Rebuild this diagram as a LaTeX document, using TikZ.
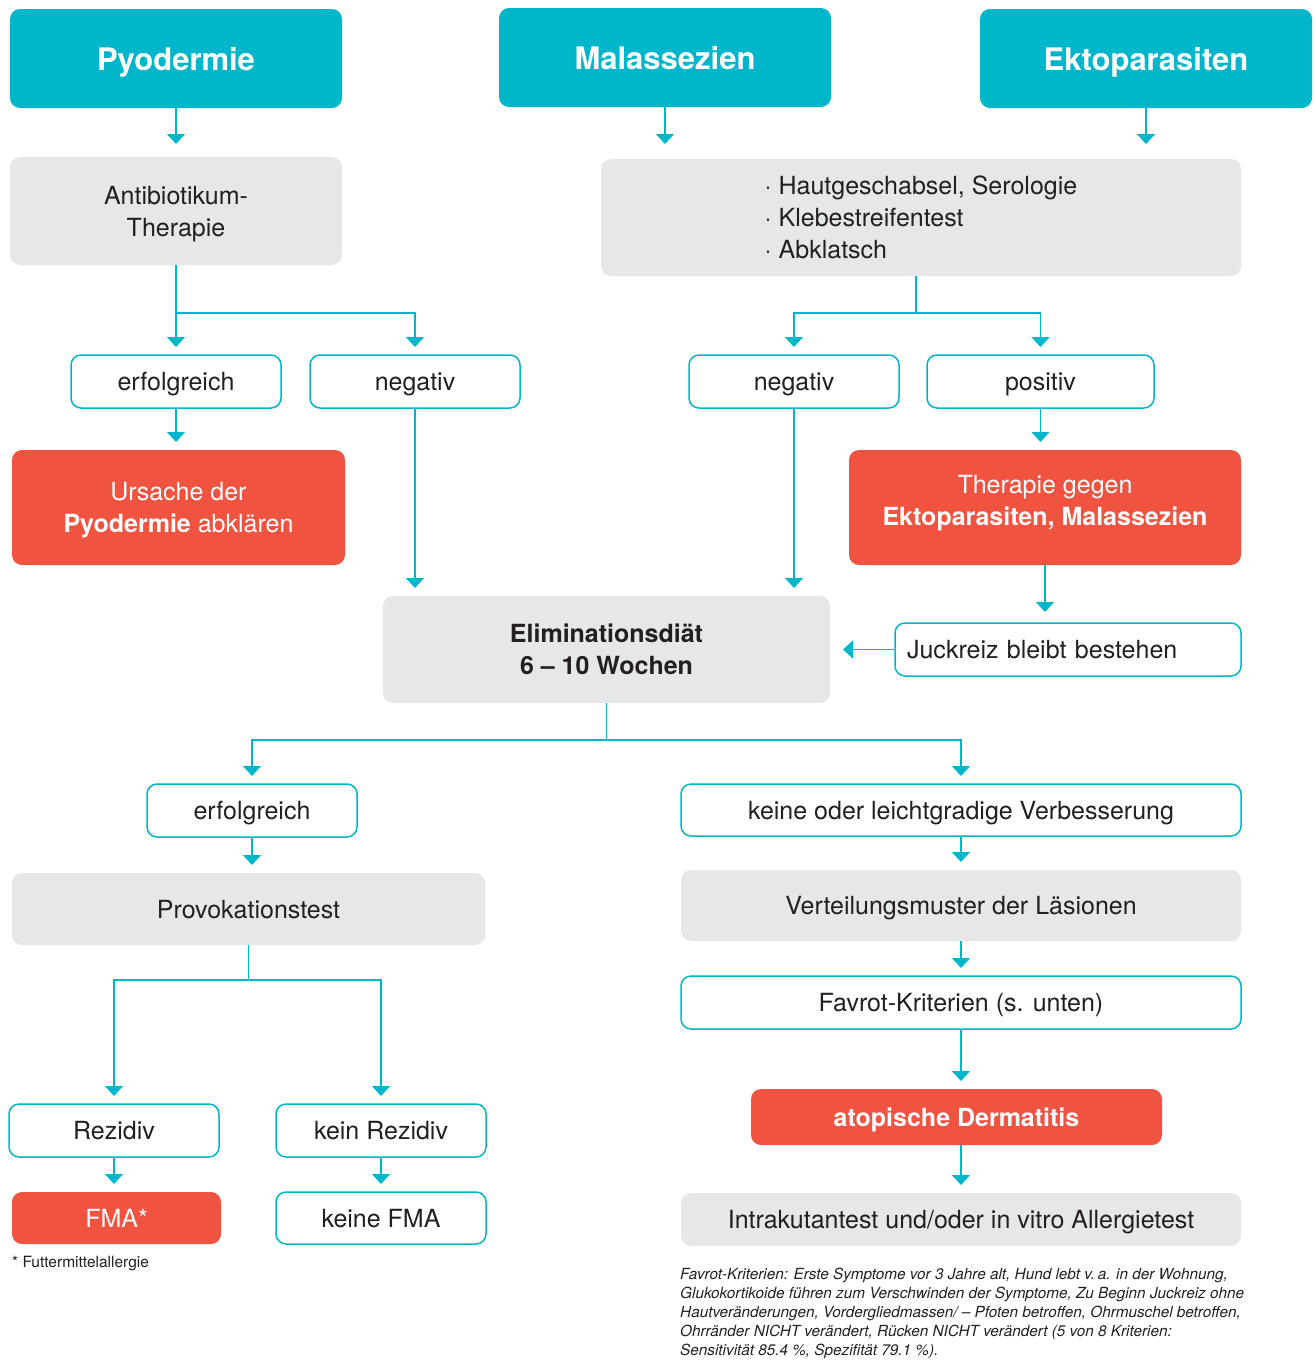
\documentclass[tikz,border=0pt]{standalone}
\usepackage{fontspec}
\setmainfont{TeX Gyre Heros}
\usetikzlibrary{arrows.meta,calc}
\definecolor{tuerkis}{RGB}{0,182,202}
\definecolor{rot}{RGB}{240,83,64}
\definecolor{hellgrau}{RGB}{230,231,232}
\definecolor{schrift}{RGB}{35,31,32}

\begin{document}
\begin{tikzpicture}[x=1pt,y=-1pt,
    B/.style={rounded corners=10pt,inner sep=0pt,outer sep=0pt,align=center,text=schrift,
      text depth=0pt,font=\fontsize{25}{32}\selectfont},
    K/.style={B,fill=tuerkis,text=white,minimum width=332pt,minimum height=99pt,
      font=\bfseries\fontsize{31}{36}\selectfont},
    G/.style={B,fill=hellgrau},
    R/.style={B,fill=rot,text=white},
    W/.style={B,draw=tuerkis,line width=1.5pt,fill=white,minimum height=53pt},
    L/.style={draw=tuerkis,line width=1.5pt},
    P/.style={L,-{Triangle[width=18pt,length=10pt]},shorten >=8pt}]
    \useasboundingbox (0,0) rectangle (1315,1361);
    \begin{scope}[shift={(0,0)}]
      \node[K] (pyo) at (176,58.5) {Pyodermie};
      \node[K] (mal) at (665,57.5) {Malassezien};
      \node[K] (ekto) at (1146,58.5) {Ektoparasiten};
      \node[G,minimum width=332pt,minimum height=108pt] (anti) at (176,211) {Antibiotikum-\\Therapie};
      \node[G,minimum width=640pt,minimum height=117pt,align=left] (tests) at (921,217.5)
        {\textperiodcentered\ Hautgeschabsel, Serologie\\\textperiodcentered\ Klebestreifentest\\\textperiodcentered\ Abklatsch};
      \node[W,minimum width=210pt] (erfA) at (176,381.5) {erfolgreich};
      \node[W,minimum width=210pt] (negA) at (415,381.5) {negativ};
      \node[W,minimum width=210pt] (negB) at (794,381.5) {negativ};
      \node[W,minimum width=227pt] (posB) at (1040.5,381.5) {positiv};
      \node[R,minimum width=333pt,minimum height=115pt] (ursache) at (178.5,507.5)
        {Ursache der\\\textbf{Pyodermie} abklären};
      \node[R,minimum width=392pt,minimum height=115pt,text depth=14pt] (therapie) at (1045,507.5)
        {Therapie gegen\\\textbf{Ektoparasiten, Malassezien}};
      \node[W,text width=322pt,inner xsep=12pt,align=left] (juck) at (1068,649.5) {Juckreiz bleibt bestehen};
      \node[G,minimum width=447pt,minimum height=107pt,font=\bfseries\fontsize{25}{32}\selectfont] (elim)
        at (606.5,649.5) {Eliminationsdiät\\6 -- 10 Wochen};
      \node[W,minimum width=210pt] (erfC) at (252,810.5) {erfolgreich};
      \node[W,minimum width=560pt,minimum height=52pt] (keine) at (961,810) {keine oder leichtgradige Verbesserung};
      \node[G,minimum width=473pt,minimum height=72pt] (provo) at (248.5,909) {Provokationstest};
      \node[G,minimum width=560pt,minimum height=71pt] (vert) at (961,905.5) {Verteilungsmuster der Läsionen};
      \node[W,minimum width=560pt] (favrot) at (961,1002.5) {Favrot-Kriterien (s. unten)};
      \node[R,minimum width=411pt,minimum height=56pt,font=\bfseries\fontsize{25}{32}\selectfont] (atop)
        at (956.5,1117) {atopische Dermatitis};
      \node[G,minimum width=560pt,minimum height=53pt] (intra) at (961,1219.5) {Intrakutantest und/oder in vitro Allergietest};
      \node[W,minimum width=210pt] (rez) at (114,1130.5) {Rezidiv};
      \node[W,minimum width=210pt] (keinrez) at (381,1130.5) {kein Rezidiv};
      \node[R,minimum width=209pt,minimum height=52pt] (fma) at (116.5,1218) {FMA*};
      \node[W,minimum width=210pt,minimum height=52pt] (keinefma) at (381,1218) {keine FMA};
      \node[anchor=west,text=schrift,inner sep=0pt,font=\fontsize{15.5}{18}\selectfont] (fuss)
        at (12,1264) {* Futtermittelallergie};
      \node[anchor=north west,text=schrift,inner sep=0pt,align=left,
        font=\itshape\fontsize{15.3}{19}\selectfont] (favnote) at (680,1268)
        {Favrot-Kriterien: Erste Symptome vor 3 Jahre alt, Hund lebt v.\,a. in der Wohnung,\\
         Glukokortikoide führen zum Verschwinden der Symptome, Zu Beginn Juckreiz ohne\\
         Hautveränderungen, Vordergliedmassen/ -- Pfoten betroffen, Ohrmuschel betroffen,\\
         Ohrränder NICHT verändert, Rücken NICHT verändert (5 von 8 Kriterien:\\
         Sensitivität 85.4 \%, Spezifität 79.1 \%).};

      \coordinate (jA) at (176,313);
      \coordinate (jB) at (916,313);
      \coordinate (jC) at (606.5,740);
      \coordinate (jD) at (248.5,980);

      \draw[P,shorten >=13pt](pyo)--(anti);
      \draw[P,shorten >=15pt](mal.south)--(mal.south |- tests.north);
      \draw[P,shorten >=15pt](ekto.south)--(ekto.south |- tests.north);
      \draw[L](anti.south)--(jA);
      \draw[P](jA)--(erfA.north);
      \draw[P](jA)-|(negA.north);
      \draw[L](jB |- tests.south)--(jB);
      \draw[P](jB)-|(negB.north);
      \draw[P](jB)-|(posB.north);
      \draw[P](erfA.south)--(erfA.south |- ursache.north);
      \draw[P](negA.south)--(negA.south |- elim.north);
      \draw[P](negB.south)--(negB.south |- elim.north);
      \draw[P](posB.south)--(posB.south |- therapie.north);
      \draw[P,shorten >=11pt](therapie.south)--(therapie.south |- juck.north);
      \draw[P,shorten >=13pt](juck.west)--(juck.west -| elim.east);
      \draw[L](elim.south)--(jC);
      \draw[P](jC)-|(erfC.north);
      \draw[P](jC)-|(keine.north);
      \draw[P](erfC.south)--(erfC.south |- provo.north);
      \draw[L](provo.south)--(jD);
      \draw[P](jD)-|(rez.north);
      \draw[P](jD)-|(keinrez.north);
      \draw[P](rez.south)--(rez.south |- fma.north);
      \draw[P](keinrez)--(keinefma);
      \draw[P](keine)--(vert);
      \draw[P](vert)--(favrot);
      \draw[P](favrot.south)--(favrot.south |- atop.north);
      \draw[P](intra.north |- atop.south)--(intra.north);
    \end{scope}
  \end{tikzpicture}
\end{document}
